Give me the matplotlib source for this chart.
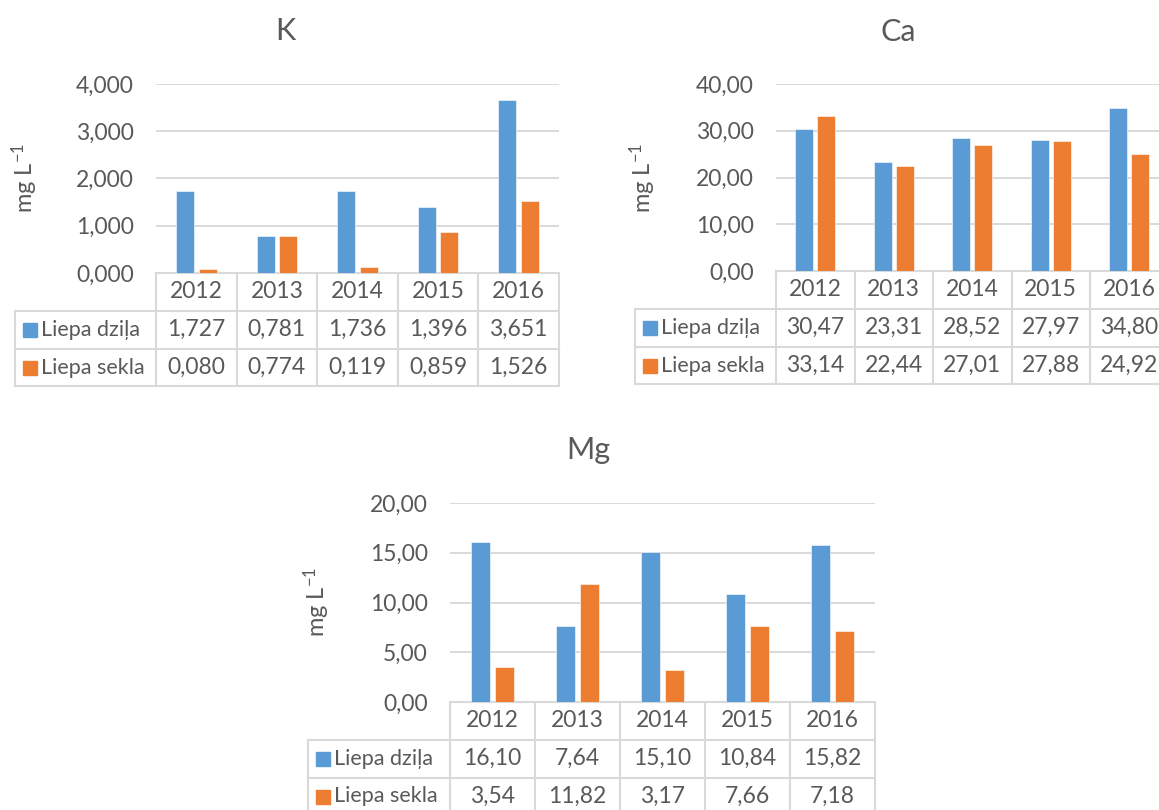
import matplotlib
matplotlib.use("Agg")
import numpy as np
import matplotlib.pyplot as plt
import matplotlib.transforms as mtransforms
from matplotlib.lines import Line2D
from matplotlib.patches import Rectangle

plt.rcParams['font.family'] = ['Lato', 'DejaVu Sans']
plt.rcParams['mathtext.fontset'] = 'custom'
plt.rcParams['mathtext.rm'] = 'Lato'
plt.rcParams['mathtext.it'] = 'Lato:italic'
plt.rcParams['mathtext.bf'] = 'Lato:bold'

years = ['2012', '2013', '2014', '2015', '2016']
series = ['Liepa dziļa', 'Liepa sekla']

k_dzila = [1.727, 0.781, 1.736, 1.396, 3.651]
k_sekla = [0.080, 0.774, 0.119, 0.859, 1.526]
ca_dzila = [30.47, 23.31, 28.52, 27.97, 34.80]
ca_sekla = [33.14, 22.44, 27.01, 27.88, 24.92]
mg_dzila = [16.10, 7.64, 15.10, 10.84, 15.82]
mg_sekla = [3.54, 11.82, 3.17, 7.66, 7.18]

BLUE = '#5B9BD5'
ORANGE = '#ED7D31'
TEXT = '#595959'
GRID = '#D9D9D9'
FS = 16.5

W, H = 1159, 810
fig = plt.figure(figsize=(W / 100, H / 100), dpi=100)


def fmt(v, dec):
    return f'{v:.{dec}f}'.replace('.', ',')


def chart(title, a, b, ymax, step, dec, left, top, bottom, colw, leg_px,
          title_xy, ylab_xy, rowh=37.8):
    hp = bottom - top
    ax = fig.add_axes([left / W, 1 - bottom / H, 5 * colw / W, hp / H])
    x = np.arange(len(years))
    ax.bar(x - 0.14, a, 0.225, color=BLUE, edgecolor='white', linewidth=0.4, zorder=3)
    ax.bar(x + 0.14, b, 0.225, color=ORANGE, edgecolor='white', linewidth=0.4, zorder=3)
    ax.set_xlim(-0.5, 4.5)
    ax.set_ylim(0, ymax)
    ticks = np.arange(0, ymax + step / 2, step)
    ax.set_yticks(ticks)
    ax.set_yticklabels([fmt(t, dec) for t in ticks])
    ax.tick_params(axis='y', length=0, pad=16, labelsize=FS, colors=TEXT)
    ax.set_xticks([])
    ax.grid(axis='y', color=GRID, linewidth=1.4, zorder=0)
    for s in ax.spines.values():
        s.set_visible(False)

    # data table under the plot
    tr = mtransforms.blended_transform_factory(ax.transData, ax.transAxes)
    rh = rowh / hp
    lx = -0.5 - (left - leg_px) / colw
    lines = [([-0.5, 4.5], [0, 0])]
    for r in (1, 2, 3):
        lines.append(([lx, 4.5], [-r * rh, -r * rh]))
    for i in range(6):
        lines.append(([i - 0.5, i - 0.5], [0, -3 * rh]))
    lines.append(([lx, lx], [-rh, -3 * rh]))
    for xs, ys in lines:
        ax.add_line(Line2D(xs, ys, transform=tr, color=GRID, lw=1.5,
                           clip_on=False, solid_capstyle='projecting'))
    for i, yr in enumerate(years):
        ax.text(i, -0.5 * rh, yr, transform=tr, ha='center', va='center',
                fontsize=FS, color=TEXT)
        ax.text(i, -1.5 * rh, fmt(a[i], dec), transform=tr, ha='center',
                va='center', fontsize=FS, color=TEXT)
        ax.text(i, -2.5 * rh, fmt(b[i], dec), transform=tr, ha='center',
                va='center', fontsize=FS, color=TEXT)
    sw = 14
    for j, (name, col) in enumerate(zip(series, [BLUE, ORANGE])):
        yc = -(1.5 + j) * rh
        ax.add_patch(Rectangle((lx + 8 / colw, yc - sw / 2 / hp), sw / colw, sw / hp,
                               transform=tr, color=col, clip_on=False))
        ax.text(lx + (8 + sw + 4) / colw, yc, name, transform=tr, ha='left',
                va='center', fontsize=15.5, color=TEXT)

    fig.text(title_xy[0] / W, 1 - title_xy[1] / H, title, ha='center',
             va='baseline', fontsize=22, color=TEXT)
    fig.text(ylab_xy[0] / W, 1 - ylab_xy[1] / H, 'mg L$^{-1}$', rotation=90,
             ha='center', va='center', fontsize=17, color=TEXT)
    return ax


chart('K', k_dzila, k_sekla, 4.0, 1.0, 3, 156, 84, 273, 80.6, 15,
      (285, 40), (25, 178))
chart('Ca', ca_dzila, ca_sekla, 40.0, 10.0, 2, 776, 84, 271, 78.5, 635,
      (898, 41), (643, 178))
chart('Mg', mg_dzila, mg_sekla, 20.0, 5.0, 2, 450, 503, 702, 85, 308,
      (588, 459), (317, 602))

fig.savefig('out.png', dpi=100)
